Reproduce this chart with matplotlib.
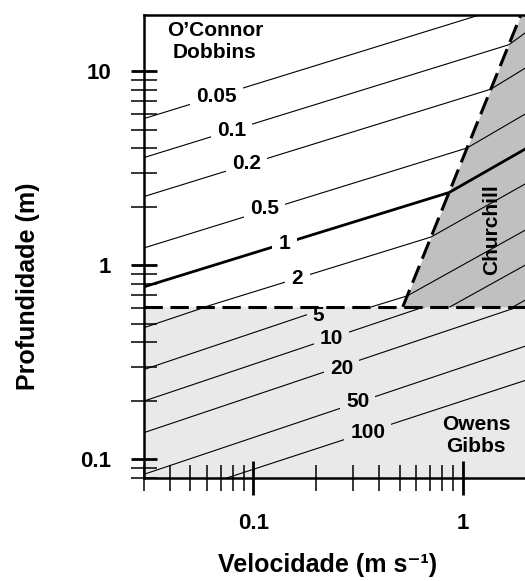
import matplotlib.pyplot as plt
from matplotlib import ticker

plt.rcParams["font.family"] = ["Liberation Sans", "DejaVu Sans"]
plt.rcParams["font.weight"] = "bold"

# axis ranges (velocity in m/s, depth in m)
u_lim = (0.03, 2.0)
h_lim = (0.08, 19.5)

# depth separating O'Connor-Dobbins (above) and Owens-Gibbs (below)
h_split = 0.61
# left border of the Churchill area
churchill_u = [0.518, 1.90]
churchill_h = [0.61, 19.5]

# O'Connor-Dobbins lines, continued through the Churchill area
od_k = ["0.05", "0.1", "0.2", "0.5", "1", "2", "5", "10", "20"]
od_u = [[0.03, 1.26],
        [0.03, 1.665, 2.0],
        [0.03, 1.365, 2.0],
        [0.03, 1.05, 2.0],
        [0.03, 0.862, 2.0],
        [0.0588, 0.706, 2.0],
        [0.367, 0.544, 2.0],
        [0.871, 2.0],
        [1.743, 2.0]]
od_h = [[5.70, 19.8],
        [3.59, 13.7, 15.8],
        [2.26, 8.08, 10.4],
        [1.228, 4.02, 6.03],
        [0.774, 2.37, 3.98],
        [0.61, 1.397, 2.63],
        [0.61, 0.695, 1.519],
        [0.61, 1.003],
        [0.61, 0.662]]

# Owens-Gibbs lines
og_k = ["2", "5", "10", "20", "50", "100"]
og_u = [[0.03, 0.0593],
        [0.03, 0.233],
        [0.03, 0.655],
        [0.03, 1.843],
        [0.03, 2.0],
        [0.0746, 2.0]]
og_h = [[0.4765, 0.61],
        [0.290, 0.61],
        [0.1994, 0.61],
        [0.1371, 0.61],
        [0.0836, 0.383],
        [0.08, 0.255]]

# inline labels
od_label_k = ["0.05", "0.1", "0.2", "0.5", "1", "2"]
od_label_u = [0.0665, 0.0785, 0.0926, 0.113, 0.141, 0.1626]
od_label_h = [7.45, 4.97, 3.33, 1.95, 1.30, 0.857]

og_label_k = ["5", "10", "20", "50", "100"]
og_label_u = [0.205, 0.2365, 0.264, 0.315, 0.352]
og_label_h = [0.548, 0.42, 0.295, 0.198, 0.138]

light_gray = "#e9e9e9"
dark_gray = "#c0c0c0"

fig = plt.figure(figsize=(5.25, 5.81), dpi=100)
ax = fig.add_axes([144 / 525, 103 / 581, 381.5 / 525, 463 / 581])
ax.set_xscale("log")
ax.set_yscale("log")
ax.set_xlim(u_lim)
ax.set_ylim(h_lim)

# Owens-Gibbs part (drawn first, then covered above h_split)
ax.axhspan(h_lim[0], h_split, color=light_gray, lw=0, zorder=0)
for u, h in zip(og_u, og_h):
    ax.plot(u, h, color="black", lw=0.8, zorder=2)
for k, u, h in zip(og_label_k, og_label_u, og_label_h):
    ax.text(u, h, k, ha="center", va="center", fontsize=15, zorder=3,
            bbox=dict(boxstyle="square,pad=0.3", fc=light_gray, ec="none"))

# O'Connor-Dobbins and Churchill part
ax.axhspan(h_split, h_lim[1], color="white", lw=0, zorder=3.5)
ax.fill_betweenx(churchill_h, churchill_u, u_lim[1], color=dark_gray, lw=0, zorder=3.6)
for k, u, h in zip(od_k, od_u, od_h):
    lw = 2.0 if k == "1" else 0.8
    ax.plot(u, h, color="black", lw=lw, zorder=4)
for k, u, h in zip(od_label_k, od_label_u, od_label_h):
    ax.text(u, h, k, ha="center", va="center", fontsize=15, zorder=4.5,
            bbox=dict(boxstyle="square,pad=0.3", fc="white", ec="none"))

# borders between the methods
ax.plot(u_lim, [h_split, h_split], color="black", lw=2.2, dashes=(6, 2.5), zorder=5)
ax.plot(churchill_u, churchill_h, color="black", lw=2.2, dashes=(6, 2.5), zorder=5)

ax.text(0.186, 0.942, "O’Connor\nDobbins", transform=ax.transAxes,
        ha="center", va="center", fontsize=15, zorder=5)
ax.text(0.912, 0.536, "Churchill", transform=ax.transAxes, rotation=90,
        ha="center", va="center", fontsize=15, zorder=5)
ax.text(0.870, 0.092, "Owens\nGibbs", transform=ax.transAxes,
        ha="center", va="center", fontsize=15, zorder=5)

# axes
fmt = ticker.FuncFormatter(lambda v, p: f"{v:g}")
for axis in (ax.xaxis, ax.yaxis):
    axis.set_major_formatter(fmt)
    axis.set_minor_formatter(ticker.NullFormatter())
    axis.set_zorder(6)
ax.tick_params(which="both", direction="inout", length=19, width=1.1,
               pad=14, labelsize=16)
ax.tick_params(which="major", width=2.0)
ax.tick_params(axis="x", which="major", length=24, pad=13)
ax.spines["right"].set_visible(False)
for side in ("left", "top", "bottom"):
    ax.spines[side].set_linewidth(1.8)
    ax.spines[side].set_zorder(6)

fig.text(28 / 525, 1 - 286 / 581, "Profundidade (m)", rotation=90,
         ha="center", va="center", fontsize=18)
fig.text(328 / 525, 1 - 565 / 581, "Velocidade (m s⁻¹)",
         ha="center", va="center", fontsize=18)

plt.savefig("out.png", dpi=100)
